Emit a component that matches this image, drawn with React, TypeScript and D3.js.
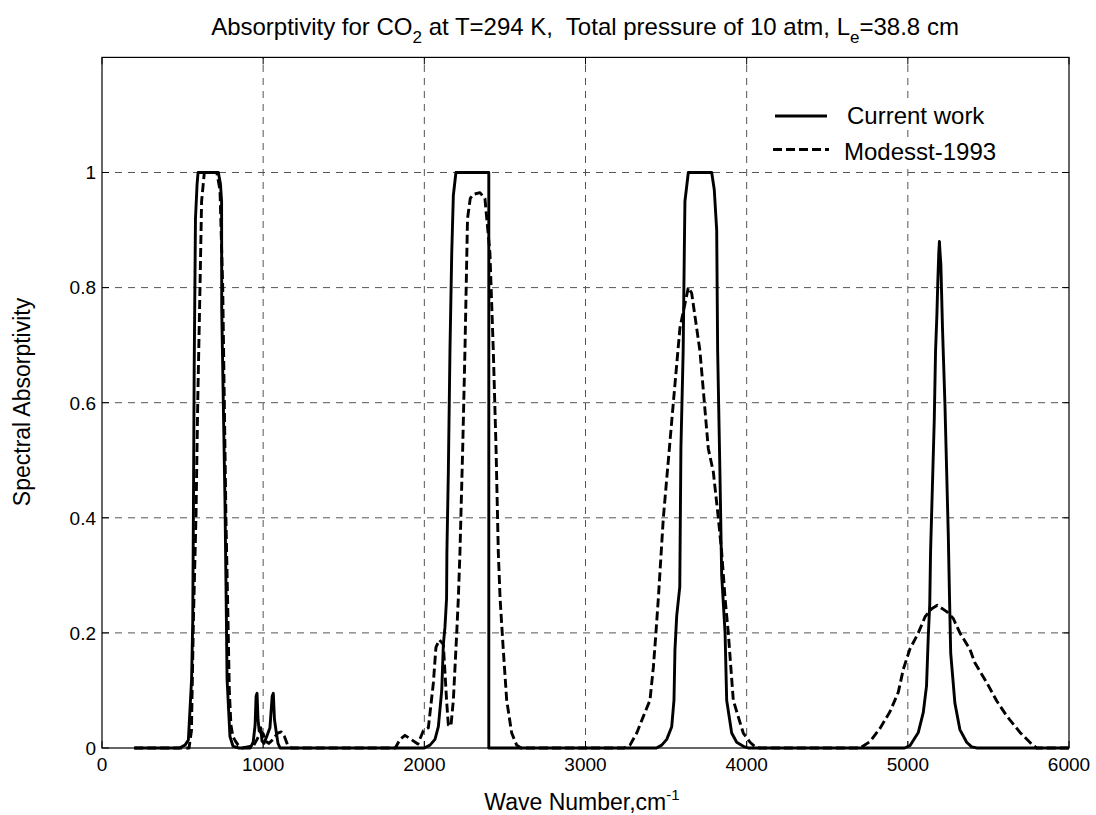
import React from 'react';
import * as d3 from 'd3';

// wave number (cm-1), spectral absorptivity
const currentWork: [number, number][] = [
  [200, 0], [480, 0], [515, 0.005], [536, 0.014], [556, 0.12], [563, 0.22], [567, 0.4], [572, 0.66],
  [580, 0.92], [590, 0.98], [596, 1], [722, 1], [735, 0.98], [742, 0.95], [743, 0.76],
  [763, 0.43], [772, 0.22], [776, 0.12], [794, 0.02], [813, 0.003], [850, 0],
  [920, 0], [938, 0.01], [950, 0.04], [956, 0.09], [962, 0.095], [968, 0.05], [975, 0.03], [985, 0.035],
  [993, 0.012], [1005, 0.008], [1022, 0.02], [1042, 0.035], [1056, 0.09], [1063, 0.095], [1070, 0.05],
  [1080, 0.03], [1092, 0.008], [1105, 0],
  [2000, 0], [2035, 0.005], [2066, 0.015], [2087, 0.037], [2108, 0.1], [2118, 0.18], [2128, 0.21],
  [2138, 0.26], [2140, 0.34], [2149, 0.48], [2159, 0.69], [2170, 0.86], [2180, 0.96], [2196, 1],
  [2400, 1], [2400, 0],
  [3440, 0], [3473, 0.005], [3504, 0.015], [3535, 0.037], [3549, 0.083], [3555, 0.17], [3566, 0.23],
  [3585, 0.28], [3592, 0.52], [3606, 0.69], [3613, 0.86], [3617, 0.95], [3638, 1], [3783, 1],
  [3799, 0.97], [3814, 0.9], [3820, 0.69], [3834, 0.48], [3845, 0.3], [3866, 0.2], [3876, 0.083],
  [3907, 0.026], [3938, 0.01], [3979, 0.003], [4010, 0],
  [4980, 0], [5013, 0.004], [5065, 0.027], [5096, 0.062], [5116, 0.108], [5127, 0.195], [5136, 0.25],
  [5141, 0.34], [5152, 0.45], [5164, 0.57], [5172, 0.69], [5180, 0.75], [5186, 0.81], [5192, 0.86],
  [5196, 0.88], [5200, 0.86], [5205, 0.84], [5215, 0.73], [5230, 0.6], [5241, 0.48], [5251, 0.37],
  [5258, 0.27], [5266, 0.165], [5292, 0.078], [5323, 0.032], [5365, 0.01], [5396, 0.002], [5430, 0],
  [6000, 0],
];

const modest1993: [number, number][] = [
  [200, 0], [540, 0], [555, 0.03], [567, 0.22], [583, 0.4], [594, 0.6], [608, 0.8], [618, 0.95],
  [635, 1], [712, 1], [732, 0.97], [749, 0.8], [759, 0.6], [769, 0.4], [782, 0.22], [790, 0.1],
  [800, 0.04], [812, 0.02], [828, 0.012], [845, 0.005], [870, 0],
  [940, 0.004], [962, 0.015], [985, 0.028], [1000, 0.025], [1015, 0.012], [1035, 0.008], [1062, 0.015],
  [1090, 0.026], [1112, 0.028], [1132, 0.02], [1152, 0.005], [1175, 0],
  [1820, 0], [1849, 0.015], [1880, 0.022], [1918, 0.015], [1960, 0.007], [1994, 0.03], [2025, 0.035],
  [2056, 0.113], [2072, 0.175], [2093, 0.188], [2118, 0.18], [2138, 0.083], [2149, 0.04], [2165, 0.038],
  [2180, 0.083], [2201, 0.2], [2211, 0.26], [2221, 0.34], [2238, 0.52], [2252, 0.69], [2268, 0.92],
  [2285, 0.955], [2304, 0.962], [2345, 0.965], [2376, 0.955], [2407, 0.86], [2428, 0.69], [2445, 0.52],
  [2459, 0.34], [2470, 0.26], [2490, 0.17], [2511, 0.083], [2542, 0.026], [2573, 0.005], [2600, 0],
  [3240, 0], [3276, 0.005], [3318, 0.026], [3359, 0.055], [3400, 0.083], [3421, 0.14], [3437, 0.2],
  [3452, 0.26], [3483, 0.4], [3545, 0.6], [3586, 0.73], [3638, 0.8], [3659, 0.79], [3710, 0.69],
  [3762, 0.52], [3793, 0.48], [3824, 0.4], [3845, 0.34], [3866, 0.26], [3886, 0.2], [3917, 0.083],
  [3958, 0.045], [3979, 0.026], [4021, 0.01], [4052, 0.002], [4080, 0],
  [4703, 0], [4765, 0.011], [4827, 0.034], [4889, 0.063], [4941, 0.097], [4972, 0.137], [5013, 0.172],
  [5065, 0.2], [5107, 0.228], [5148, 0.242], [5183, 0.248], [5241, 0.237], [5282, 0.225], [5323, 0.2],
  [5386, 0.171], [5416, 0.148], [5489, 0.114], [5551, 0.082], [5613, 0.056], [5696, 0.027],
  [5768, 0.007], [5799, 0], [6000, 0],
];

const xTicks = [0, 1000, 2000, 3000, 4000, 5000, 6000];
const yTicks = [0, 0.2, 0.4, 0.6, 0.8, 1];
const legendLabels = ['Current work', 'Modesst-1993'];

const W = 1096;
const H = 815;
const FONT = '"Liberation Sans", Arial, Helvetica, sans-serif';

const App: React.FC = () => {
  const x = d3.scaleLinear().domain([0, 6000]).range([102, 1069]);
  const y = d3.scaleLinear().domain([0, 1.2]).range([748, 57.4]);
  const line = d3.line<[number, number]>().x(d => x(d[0])).y(d => y(d[1]));

  const [x0, x1] = x.range();
  const [y0, y1] = y.range();
  const gridDash = '7 6';

  return (
    <svg width={W} height={H} style={{ position: 'absolute', left: 0, top: 0, background: '#fff' }} fontFamily={FONT}>
      <rect x={0} y={0} width={W} height={H} fill="#fff" />

      {/* grid */}
      {xTicks.slice(1, -1).map(t => (
        <line key={'gx' + t} x1={x(t)} x2={x(t)} y1={y0} y2={y1} stroke="#555" strokeWidth={1} strokeDasharray={gridDash} />
      ))}
      {yTicks.slice(1).map(t => (
        <line key={'gy' + t} x1={x0} x2={x1} y1={y(t)} y2={y(t)} stroke="#555" strokeWidth={1} strokeDasharray={gridDash} />
      ))}

      {/* ticks, inward on all four sides */}
      {xTicks.map(t => (
        <g key={'tx' + t} stroke="#000" strokeWidth={1}>
          <line x1={x(t)} x2={x(t)} y1={y0} y2={y0 - 7} />
          <line x1={x(t)} x2={x(t)} y1={y1} y2={y1 + 7} />
        </g>
      ))}
      {yTicks.map(t => (
        <g key={'ty' + t} stroke="#000" strokeWidth={1}>
          <line x1={x0} x2={x0 + 7} y1={y(t)} y2={y(t)} />
          <line x1={x1} x2={x1 - 7} y1={y(t)} y2={y(t)} />
        </g>
      ))}

      {/* series */}
      <path d={line(modest1993) || ''} fill="none" stroke="#000" strokeWidth={2.9} strokeDasharray="9 4" strokeLinejoin="round" />
      <path d={line(currentWork) || ''} fill="none" stroke="#000" strokeWidth={2.9} strokeLinejoin="round" />

      {/* frame */}
      <rect x={x0} y={y1} width={x1 - x0} height={y0 - y1} fill="none" stroke="#000" strokeWidth={1.2} />

      {/* tick labels */}
      {xTicks.map(t => (
        <text key={'lx' + t} x={x(t)} y={771} textAnchor="middle" fontSize={19}>{t}</text>
      ))}
      {yTicks.map(t => (
        <text key={'ly' + t} x={96} y={y(t)} dy="0.36em" textAnchor="end" fontSize={19}>{t}</text>
      ))}

      {/* axis labels */}
      <text x={582} y={810} textAnchor="middle" fontSize={23}>
        Wave Number,cm<tspan fontSize={15} dy={-10}>-1</tspan>
      </text>
      <text transform="translate(30,402) rotate(-90)" textAnchor="middle" fontSize={23}>Spectral Absorptivity</text>

      {/* title */}
      <text x={585} y={35} textAnchor="middle" fontSize={24}>
        Absorptivity for CO<tspan fontSize={17} dy={8}>2</tspan>
        <tspan dy={-8}>{' at T=294 K,\u00a0 Total pressure of 10 atm, L'}</tspan>
        <tspan fontSize={17} dy={8}>e</tspan>
        <tspan dy={-8}>=38.8 cm</tspan>
      </text>

      {/* legend */}
      <rect x={838} y={102} width={160} height={28} fill="#fff" />
      <rect x={838} y={137} width={170} height={28} fill="#fff" />
      <line x1={775} x2={827} y1={116} y2={116} stroke="#000" strokeWidth={2.9} />
      <line x1={773} x2={829} y1={149.5} y2={149.5} stroke="#000" strokeWidth={2.9} strokeDasharray="9 4" />
      <text x={847} y={124} fontSize={24}>{legendLabels[0]}</text>
      <text x={844} y={160} fontSize={24}>{legendLabels[1]}</text>
    </svg>
  );
};

export default App;
